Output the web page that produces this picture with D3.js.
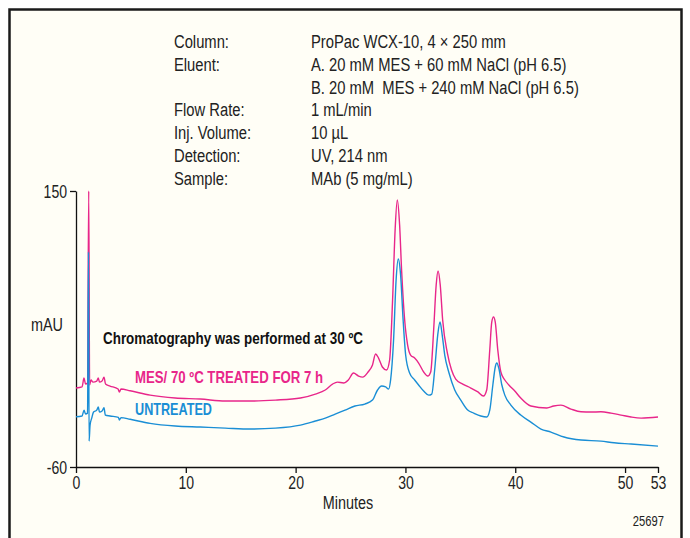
<!DOCTYPE html>
<html lang="en">
<head>
<meta charset="UTF-8">
<title>WCX-10 chromatogram</title>
<script src="https://cdn.jsdelivr.net/npm/d3@7"></script>
<style>
  body, html {
    margin: 0;
    background: #fff;
  }
  svg {
    display: block;
    font-family: "Liberation Sans", Helvetica, sans-serif;
  }
</style>
</head>
<body>
<svg width="690" height="538"></svg>
<script>
// conditions block
const condLabels = ["Column:", "Eluent:", "", "Flow Rate:", "Inj. Volume:", "Detection:", "Sample:"];
const condValues = ["ProPac WCX-10, 4 \u00d7 250 mm", "A. 20 mM MES + 60 mM NaCl (pH 6.5)",
  "B. 20 mM \u00a0MES + 240 mM NaCl (pH 6.5)", "1 mL/min", "10 \u00b5L", "UV, 214 nm", "MAb (5 mg/mL)"];

const xTicks = [0, 10, 20, 30, 40, 50, 53];
const yTicks = [150, -60];

// MES / 70 C treated trace (minutes, mAU)
const treatedMin = [0, 0.55, 0.73, 0.87, 1.05, 1.16, 1.24, 1.37, 1.55, 1.89, 2.03, 2.14, 2.37, 2.55, 2.69, 3.1, 3.83, 3.95, 4.1, 4.93,
  6.75, 9.03, 11.31, 13.6, 15.88, 18.16, 20.44, 21.8, 22.7, 23.36, 23.8, 24.36, 24.8, 25.27, 25.73, 26.1, 26.6, 27.0, 27.28, 27.55,
  27.9, 28.28, 28.56, 28.83, 29.06, 29.26, 29.47, 29.65, 29.93, 30.2, 30.47, 30.84, 31.2, 31.66, 32.03, 32.3, 32.57, 32.8, 32.97,
  33.17, 33.39, 33.82, 34.2, 34.58, 35.22, 35.95, 36.6, 37.1, 37.4, 37.68, 37.86, 38.02, 38.18, 38.41, 38.69, 39.05, 39.42, 39.96,
  40.5, 41.42, 42.88, 43.5, 44.16, 45.07, 45.99, 46.9, 47.8, 48.72, 49.64, 50.55, 51.46, 53];
const treatedAU = [0.1, 0.9, 7.7, 3.1, 3.9, 150, 2.4, 6.2, 4.6, 5.4, 7.7, 4.6, 5.4, 8.4, 3.1, 1.6, -0.7, -3.0, -0.7, -2.0,
  -5.3, -7.5, -8.3, -9.8, -9.8, -9.1, -7.5, -4.5, -1.4, 3.1, 4.6, 3.9, 6.2, 11.5, 9.2, 8.4, 12.3, 17.6, 26.0, 22.9,
  16.1, 13.8, 21.4, 67.0, 120.3, 143.2, 124.1, 89.9, 51.8, 32.8, 25.2, 22.9, 19.1, 12.3, 9.2, 12.3, 44.2, 78.5, 89.1,
  78.5, 51.8, 26.7, 13.8, 6.9, 3.1, 0.1, -2.9, -6.0, -1.4, 29.0, 50.3, 54.1, 50.3, 29.0, 12.3, 6.2, 2.4, -2.2,
  -7.5, -13.6, -15.1, -13.6, -12.9, -15.9, -18.0, -18.2, -18.0, -19.0, -20.5, -22.0, -22.8, -22.0];

// untreated trace (minutes, mAU)
const untreatedMin = [0, 0.55, 0.73, 0.87, 1.05, 1.14, 1.19, 1.28, 1.43, 1.6, 1.89, 2.03, 2.14, 2.37, 2.55, 2.67, 3.1, 3.86, 3.95, 4.1,
  4.93, 6.75, 9.03, 11.31, 13.6, 15.88, 18.16, 20.44, 21.8, 22.7, 23.6, 24.5, 25.4, 26.3, 27.0, 27.46, 27.83, 28.2, 28.47, 28.65,
  28.92, 29.15, 29.35, 29.56, 29.79, 30.02, 30.38, 30.84, 31.2, 31.66, 32.12, 32.4, 32.66, 32.94, 33.15, 33.35, 33.58, 33.97, 34.49,
  35.04, 35.67, 36.22, 36.86, 37.4, 37.68, 37.96, 38.18, 38.32, 38.5, 38.78, 39.05, 39.6, 40.5, 41.42, 42.34, 43.25, 44.44, 45.99,
  47.81, 49.0, 50.55, 53];
const untreatedAU = [-21.8, -21.2, -16.7, -19.7, -19.0, 103.6, -40.3, -28.1, -22.8, -18.2, -16.7, -14.4, -18.2, -17.4, -14.9, -20.5, -21.2, -22.2, -24.3, -22.4,
  -23.7, -26.8, -28.8, -29.6, -30.4, -31.1, -30.4, -28.1, -25.0, -22.8, -19.7, -16.7, -13.6, -12.1, -9.1, -1.4, 1.6, 0.9, -0.7, 6.2,
  36.6, 82.3, 98.3, 86.1, 51.8, 25.2, 11.5, 6.2, 2.4, -2.2, -5.3, -4.5, 13.8, 40.4, 50.3, 40.4, 25.2, 11.5, -1.4,
  -9.1, -16.7, -19.0, -21.2, -22.0, -16.7, 2.4, 16.1, 19.1, 15.3, 2.4, -5.3, -12.9, -20.5, -25.8, -31.1, -33.4, -37.2, -39.5,
  -40.3, -41.6, -42.5, -44.1];

const pink = "#e8268a", blue = "#1a8ed5";

// the original uses a condensed face; squeeze regular glyphs horizontally
function squeeze(sel, f) {
  sel.each(function() {
    const w = this.getComputedTextLength();
    if (w > 0) d3.select(this).attr("textLength", w * f).attr("lengthAdjust", "spacingAndGlyphs");
  });
}

const svg = d3.select("svg");
svg.append("rect").attr("width", 690).attr("height", 538).attr("fill", "#fff");
svg.append("rect").attr("x", 9.5).attr("y", 9.5).attr("width", 672).attr("height", 540)
  .attr("fill", "#fffef6").attr("stroke", "#1a1a1a").attr("stroke-width", 2.5);

const m = {left: 76, top: 191, right: 658, bottom: 467};
const x = d3.scaleLinear().domain([0, 53]).range([m.left, m.right]);
const y = d3.scaleLinear().domain([-60, 150]).range([m.bottom, m.top]);

// conditions text
const cond = svg.append("g").attr("font-size", 18).attr("fill", "#222");
condLabels.forEach((t, i) => {
  cond.append("text").attr("x", 174).attr("y", 48 + i * 22.8).text(t);
  cond.append("text").attr("x", 311).attr("y", 48 + i * 22.8).text(condValues[i]);
});
squeeze(cond.selectAll("text"), 0.82);

// axes
const xAxis = svg.append("g").attr("transform", `translate(0,${m.bottom})`)
  .call(d3.axisBottom(x).tickValues(xTicks).tickSize(6).tickSizeOuter(0).tickPadding(3).tickFormat(d => String(d)));
const yAxis = svg.append("g").attr("transform", `translate(${m.left},0)`)
  .call(d3.axisLeft(y).tickValues(yTicks).tickSize(6).tickSizeOuter(0).tickPadding(3).tickFormat(d => String(d)));
[xAxis, yAxis].forEach(a => {
  a.select(".domain").attr("stroke", "#111").attr("stroke-width", 1.3);
  a.selectAll(".tick line").attr("stroke", "#111").attr("stroke-width", 1.3);
  a.selectAll("text").attr("font-size", 18).attr("fill", "#222").attr("font-family", null);
  squeeze(a.selectAll("text"), 0.78);
});
yAxis.selectAll("text").attr("dy", "0.36em");

const labels = svg.append("g").attr("fill", "#222");
labels.append("text").attr("x", 63).attr("y", 331).attr("text-anchor", "end")
  .attr("font-size", 18).text("mAU");
labels.append("text").attr("x", 348).attr("y", 509).attr("text-anchor", "middle")
  .attr("font-size", 18).text("Minutes");
labels.append("text").attr("x", 664).attr("y", 526).attr("text-anchor", "end")
  .attr("font-size", 14).text("25697");
squeeze(labels.selectAll("text"), 0.8);

// traces
const line = d3.line().x(d => x(d[0])).y(d => y(d[1])).curve(d3.curveMonotoneX);
const treated = d3.zip(treatedMin, treatedAU);
const untreated = d3.zip(untreatedMin, untreatedAU);
svg.append("path").datum(treated).attr("d", line)
  .attr("fill", "none").attr("stroke", pink).attr("stroke-width", 1.4);
svg.append("path").datum(untreated).attr("d", line)
  .attr("fill", "none").attr("stroke", blue).attr("stroke-width", 1.4);

// annotations
const notes = svg.append("g").attr("font-size", 16.5).attr("font-weight", "bold");
notes.append("text").attr("x", 103).attr("y", 343.5).attr("fill", "#111")
  .attr("textLength", 260).attr("lengthAdjust", "spacingAndGlyphs")
  .text("Chromatography was performed at 30 \u00baC");
notes.append("text").attr("x", 135).attr("y", 383).attr("fill", pink)
  .attr("textLength", 188).attr("lengthAdjust", "spacingAndGlyphs")
  .text("MES/ 70 \u00baC TREATED FOR 7 h");
notes.append("text").attr("x", 135).attr("y", 415).attr("fill", blue)
  .attr("textLength", 77).attr("lengthAdjust", "spacingAndGlyphs")
  .text("UNTREATED");
</script>
</body>
</html>
